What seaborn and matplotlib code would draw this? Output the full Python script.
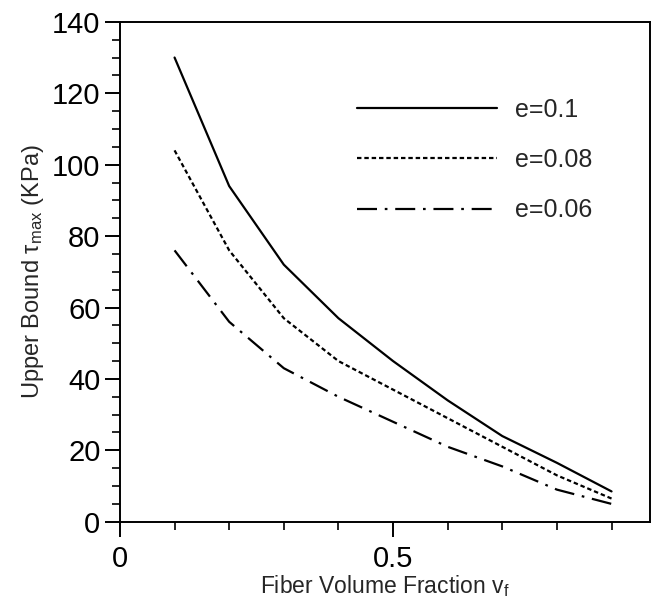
import numpy as np
import pandas as pd
import matplotlib
matplotlib.use("Agg")
import matplotlib.pyplot as plt
from matplotlib.ticker import MultipleLocator
import seaborn as sns

# ─── Data ────────────────────────────────────────────────────────────────────
vf = [0.1, 0.2, 0.3, 0.4, 0.5, 0.6, 0.7, 0.8, 0.9]
tau_e010 = [130, 94, 72, 57, 45, 34, 24, 16.5, 8.5]
tau_e008 = [104, 76, 57, 45, 37, 29, 21, 13, 6.5]
tau_e006 = [76, 56, 43, 35, 28, 21, 15.5, 9, 5]
labels = ["e=0.1", "e=0.08", "e=0.06"]

df = pd.DataFrame({
    "vf": vf * 3,
    "tau": tau_e010 + tau_e008 + tau_e006,
    "series": [labels[0]] * len(vf) + [labels[1]] * len(vf) + [labels[2]] * len(vf),
})

sns.set_theme(style="ticks")
plt.rcParams["font.family"] = ["Liberation Sans", "DejaVu Sans"]
plt.rcParams["mathtext.fontset"] = "custom"
plt.rcParams["mathtext.rm"] = "Liberation Sans"
plt.rcParams["mathtext.it"] = "Liberation Sans"

fig = plt.figure(figsize=(6.59, 6.06), dpi=100)
ax = fig.add_axes([0.182, 0.139, 0.804, 0.825])

sns.lineplot(data=df, x="vf", y="tau", style="series", style_order=labels,
             dashes={labels[0]: "", labels[1]: (2.0, 1.3), labels[2]: (9, 3.5, 1.2, 3.5)},
             color="black", linewidth=1.6, ax=ax, legend=True)

ax.set_xlim(0, 0.97)
ax.set_ylim(0, 140)
ax.set_xticks([0, 0.5])
ax.set_xticklabels(["0", "0.5"])
ax.xaxis.set_minor_locator(MultipleLocator(0.1))
ax.yaxis.set_major_locator(MultipleLocator(20))
ax.yaxis.set_minor_locator(MultipleLocator(5))
ax.tick_params(axis="both", which="major", direction="out", length=11, width=1.4,
               labelsize=21, colors="black")
ax.tick_params(axis="both", which="minor", direction="out", length=5.5, width=1.4)
ax.tick_params(axis="x", pad=6)
ax.tick_params(axis="y", pad=3)
for s in ax.spines.values():
    s.set_linewidth(1.4)
    s.set_color("black")

ax.set_xlabel(r"Fiber Volume Fraction $\mathregular{v_f}$", fontsize=16.5, labelpad=0)
ax.set_ylabel(r"Upper Bound $\mathregular{\tau_{max}}$ (KPa)", fontsize=17, labelpad=4)

leg = ax.legend(loc="upper right", bbox_to_anchor=(0.935, 0.893), frameon=False,
                fontsize=18, handlelength=5.6, labelspacing=1.05, handletextpad=0.75)
for line in leg.get_lines():
    line.set_linewidth(1.6)

fig.savefig("out.png", dpi=100, facecolor="white")
